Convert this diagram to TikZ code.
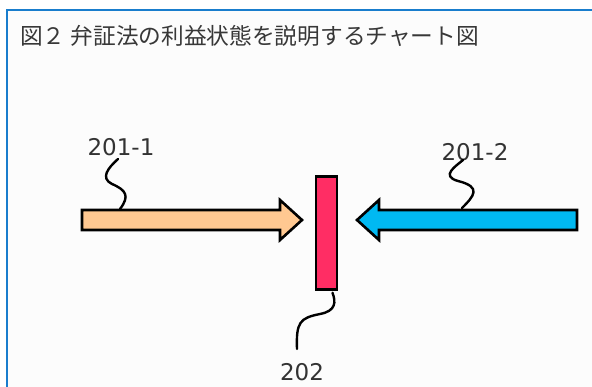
\documentclass[tikz,border=0pt]{standalone}
\usepackage{fontspec}
\setmainfont{DejaVu Sans}
\newfontfamily\cjk{Noto Sans CJK JP}
\begin{document}
\begin{tikzpicture}[x=1pt,y=-1pt,
  outline/.style={draw=black,line width=2.6pt,line join=miter},
  leader/.style={draw=black,line width=2.4pt,line cap=round},
  lbl/.style={font=\fontsize{23}{23}\selectfont,text=black!80,inner sep=0pt}]
\useasboundingbox (0,0) rectangle (592,387);
\fill[white] (0,0) rectangle (592,387);
\fill[black!1] (7,10) rectangle (592,387);
\draw[color={rgb,255:red,25;green,125;blue,205},line width=2pt] (7,388) -- (7,10) -- (593,10);
\node[anchor=west,inner sep=0pt,text=black!78,font=\cjk\fontsize{22.7}{23}\selectfont] (title) at (20,35.5) {図２ 弁証法の利益状態を説明するチャート図};
% left arrow
\path[outline,fill={rgb,255:red,255;green,200;blue,145}]
  (82,210) -- (280,210) -- (280,200) -- (302,220) -- (280,240) -- (280,230) -- (82,230) -- cycle;
% right arrow
\path[outline,fill={rgb,255:red,0;green,185;blue,242}]
  (577,210) -- (379,210) -- (379,200) -- (357,220) -- (379,240) -- (379,230) -- (577,230) -- cycle;
% bar
\node[outline,fill={rgb,255:red,255;green,45;blue,100},minimum width=21pt,minimum height=113pt,inner sep=0pt] (bar) at (326.5,233) {};
\coordinate (a1) at (120,209);
\coordinate (a2) at (462,208);
% labels
\node[lbl] (l1) at (121,147) {201-1};
\node[lbl] (l2) at (475,152) {201-2};
\node[lbl] (l3) at (302,372) {202};
% leaders
\draw[leader] (118,159) .. controls (108,168) and (100,178) .. (112,184) .. controls (126,190) and (130,196) .. (a1);
\draw[leader] (463,160) .. controls (456,166) and (440,176) .. (458,181) .. controls (482,187) and (474,196) .. (a2);
\draw[leader] (bar.south) ++(6,2) .. controls (336,302) and (336,311) .. (320,314) .. controls (300,318) and (296,322) .. (297,349);
\end{tikzpicture}
\end{document}
